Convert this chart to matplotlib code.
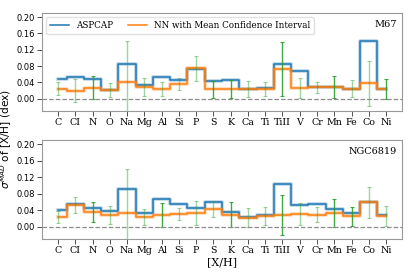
import numpy as np
import matplotlib
matplotlib.use('Agg')
import matplotlib.pyplot as plt

elements = ['C', 'CI', 'N', 'O', 'Na', 'Mg', 'Al', 'Si', 'P', 'S', 'K', 'Ca',
            'Ti', 'TiII', 'V', 'Cr', 'Mn', 'Fe', 'Co', 'Ni']

# M67
m67_aspcap = [0.048, 0.053, 0.049, 0.021, 0.086, 0.033, 0.053, 0.047, 0.073, 0.044,
              0.046, 0.024, 0.026, 0.084, 0.067, 0.029, 0.029, 0.025, 0.141, 0.024]
m67_nn = [0.025, 0.020, 0.027, 0.021, 0.042, 0.029, 0.024, 0.037, 0.075, 0.023,
          0.024, 0.024, 0.024, 0.073, 0.027, 0.028, 0.028, 0.025, 0.038, 0.024]
m67_err = [0.016, 0.028, 0.028, 0.017, 0.100, 0.021, 0.017, 0.015, 0.031, 0.021,
           0.022, 0.020, 0.017, 0.067, 0.024, 0.014, 0.027, 0.021, 0.055, 0.024]

# NGC6819
ngc_aspcap = [0.041, 0.055, 0.046, 0.037, 0.090, 0.033, 0.067, 0.056, 0.046, 0.059,
              0.036, 0.024, 0.028, 0.103, 0.053, 0.056, 0.043, 0.034, 0.059, 0.027]
ngc_nn = [0.024, 0.052, 0.035, 0.028, 0.034, 0.024, 0.028, 0.030, 0.033, 0.043,
          0.029, 0.022, 0.026, 0.028, 0.030, 0.029, 0.033, 0.025, 0.059, 0.026]
ngc_err = [0.014, 0.019, 0.024, 0.021, 0.105, 0.019, 0.029, 0.015, 0.029, 0.020,
           0.030, 0.024, 0.022, 0.048, 0.027, 0.018, 0.033, 0.023, 0.038, 0.025]

panels = [('M67', m67_aspcap, m67_nn, m67_err),
          ('NGC6819', ngc_aspcap, ngc_nn, ngc_err)]

# error bars that look darker in the original
dark = [[2, 9, 10, 13, 16, 19], [2, 6, 10, 13, 16, 17]]

fig = plt.figure(figsize=(4.15, 2.77), dpi=100)
axes = [fig.add_axes([0.101, 0.599, 0.868, 0.354]),
        fig.add_axes([0.101, 0.137, 0.868, 0.358])]

x = np.arange(len(elements))
for i, (ax, (name, asp, nn, err)) in enumerate(zip(axes, panels)):
    ax.step(x, asp, where='mid', color='#1f77b4', lw=2.6, alpha=0.3)
    l1, = ax.step(x, asp, where='mid', color='#1f77b4', lw=1.1, label='ASPCAP')
    ax.step(x, nn, where='mid', color='#ff7f0e', lw=2.6, alpha=0.3)
    l2, = ax.step(x, nn, where='mid', color='#ff7f0e', lw=1.1,
                  label='NN with Mean Confidence Interval')
    for j in range(len(elements)):
        a = 0.9 if j in dark[i] else 0.45
        ax.errorbar(x[j], nn[j], yerr=err[j], color='#2ca02c', alpha=a,
                    elinewidth=1.0, capsize=1.5, capthick=0.8, fmt='none')
    ax.axhline(0, color='0.55', ls='--', lw=0.9)
    ax.set_xlim(-0.93, 19.93)
    ax.set_ylim(-0.03, 0.21)
    ax.set_yticks(np.arange(0, 0.21, 0.04))
    ax.set_yticklabels(['%.2f' % v for v in np.arange(0, 0.21, 0.04)],
                       fontsize=6, family='DejaVu Sans')
    ax.set_xticks(x)
    ax.set_xticklabels(elements, fontsize=6.8, family='DejaVu Serif')
    ax.tick_params(length=3.5, width=0.6, pad=1.5, color='0.2')
    for s in ax.spines.values():
        s.set_color('0.6')
        s.set_linewidth(0.8)
    ax.text(0.985, 0.93, name, transform=ax.transAxes, ha='right', va='top',
            fontsize=7, family='DejaVu Serif')
    if i == 0:
        ax.legend(handles=[l1, l2], loc='upper left', ncol=2,
                  prop={'family': 'DejaVu Serif', 'size': 6.3},
                  handlelength=2.1, borderpad=0.45, columnspacing=1.8,
                  bbox_to_anchor=(0.0, 1.0), framealpha=0.8, edgecolor='0.85')

fig.text(0.016, 0.498, r'$\sigma^{MAD}$ of [X/H] (dex)', rotation=90,
         ha='center', va='center', fontsize=7.6, family='DejaVu Sans')
fig.text(0.535, 0.055, '[X/H]', ha='center', va='center', fontsize=8,
         family='DejaVu Serif')

plt.savefig('out.png', dpi=100)
